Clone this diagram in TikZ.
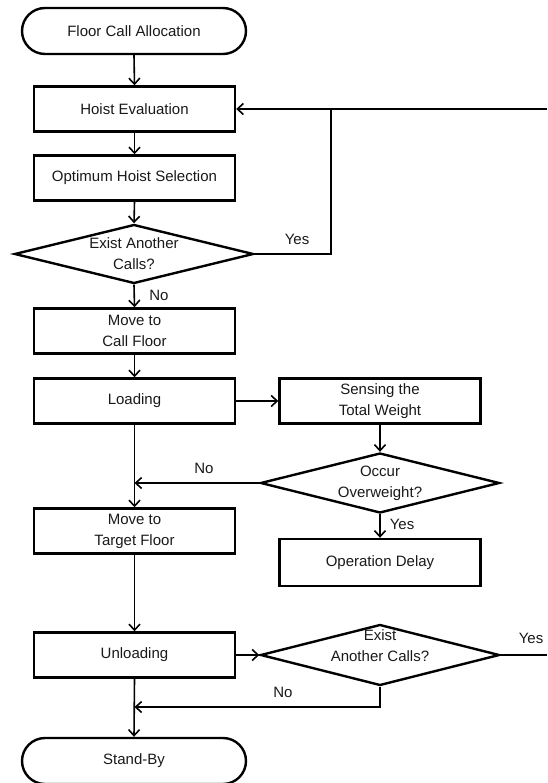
\documentclass[tikz,border=0pt]{standalone}
\usepackage{fontspec}
\setmainfont{Liberation Sans}
\usetikzlibrary{shapes.geometric,arrows.meta}
\begin{document}
\begin{tikzpicture}[x=1pt,y=-1pt,
  every node/.style={font=\fontsize{15}{21}\selectfont, text=black!90},
  procbox/.style={draw, line width=2.4pt, rectangle, minimum width=201pt, minimum height=45pt, inner sep=0pt, align=center},
  termbox/.style={draw, line width=2.4pt, rectangle, rounded corners=23pt, minimum width=224pt, minimum height=46pt, inner sep=0pt, align=center},
  decbox/.style={draw, line width=2.4pt, diamond, inner sep=0pt},
  dtext/.style={align=center, inner sep=0pt},
  conn/.style={line width=1.6pt},
  arr/.style={conn, -{Straight Barb[length=6pt,width=11pt,line width=1.6pt]}},
  lab/.style={inner sep=0pt}
]
\useasboundingbox (0,0) rectangle (547,783);
% nodes
\node[termbox] (start) at (134,31) {Floor Call Allocation};
\node[procbox] (hoist) at (134.5,109) {Hoist Evaluation};
\node[procbox] (opt) at (134.5,178) {Optimum Hoist Selection};
\node[decbox, minimum width=239pt, minimum height=59pt] (d1) at (134,254) {};
\node[dtext] (d1t) at (134,254) {Exist Another\\Calls?};
\node[procbox] (callf) at (134.5,331) {Move to\\Call Floor};
\node[procbox] (load) at (134.5,401) {Loading};
\node[procbox] (sense) at (380,401) {Sensing the\\Total Weight};
\node[decbox, minimum width=239pt, minimum height=60pt] (d2) at (380,483) {};
\node[dtext] (d2t) at (380,483) {Occur\\Overweight?};
\node[procbox] (target) at (134.5,531) {Move to\\Target Floor};
\node[procbox, minimum height=47pt] (delay) at (380,562.5) {Operation Delay};
\node[procbox] (unload) at (134.5,655) {Unloading};
\node[decbox, minimum width=239pt, minimum height=61pt] (d3) at (380,655) {};
\node[dtext] (d3t) at (380,646) {Exist\\Another Calls?};
\node[termbox, minimum height=46pt] (stand) at (134,761) {Stand-By};
% coordinates
\coordinate (jn) at (331,109);
\coordinate (edge1) at (547,109);
\coordinate (edge2) at (547,655);
\coordinate (nojoin) at (380,707);
% connectors
\draw[arr] (start.south) -- (hoist.north);
\draw[arr] (hoist.south) -- (opt.north);
\draw[arr] (opt.south) -- (d1.north);
\draw[arr] (d1.east) -| (jn) -- (hoist.east);
\draw[conn] (edge1) -- (jn);
\draw[arr] (d1.south) -- (callf.north);
\draw[arr] (callf.south) -- (load.north);
\draw[arr] (load.east) -- (sense.west);
\draw[arr] (sense.south) -- (d2.north);
\draw[arr] (load.south) -- (target.north);
\draw[arr] (d2.west) -- (d2.west -| load.south);
\draw[arr] (d2.south) -- (delay.north);
\draw[arr] (target.south) -- (unload.north);
\draw[arr] (unload.east) -- (d3.west);
\draw[conn] (d3.east) -- (edge2);
\draw[arr] (d3.south) -- (nojoin) -- (nojoin -| unload.south);
\draw[arr] (unload.south) -- (stand.north);
% labels
\node[lab] at (297,239) {Yes};
\node[lab] at (159,295) {No};
\node[lab] at (204,468) {No};
\node[lab] at (402,524) {Yes};
\node[lab] at (531,638) {Yes};
\node[lab] at (283,692) {No};
\end{tikzpicture}
\end{document}
